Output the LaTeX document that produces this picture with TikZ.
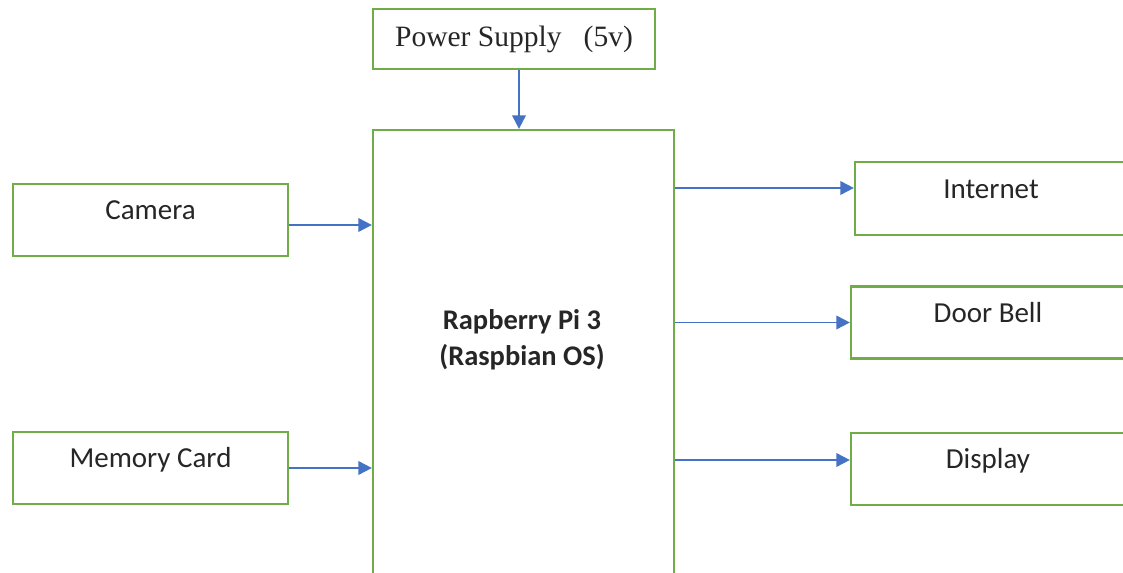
\documentclass[tikz,border=0pt]{standalone}
\usepackage{fontspec}
\setmainfont{Carlito}
\newfontfamily\serifface{Liberation Serif}
\usetikzlibrary{positioning, arrows.meta}
\definecolor{boxgreen}{HTML}{70AD47}
\definecolor{linkblue}{HTML}{4472C4}

\begin{document}
\begin{tikzpicture}[
    x=0.02cm,
    y=-0.02cm,
    unitnode/.style={
        rectangle,
        draw=boxgreen,
        line width=1.3pt,
        fill=white,
        minimum width=5.5cm,
        minimum height=1.44cm,
        inner sep=0pt,
        text height=0.42cm,
        text depth=0.42cm,
        text=black!85,
        font=\fontsize{16.5}{19}\selectfont
    },
    supplynode/.style={
        unitnode,
        minimum width=5.64cm,
        minimum height=1.2cm,
        text height=,
        text depth=,
        font=\serifface\fontsize{16.8}{19}\selectfont
    },
    pinode/.style={
        unitnode,
        minimum width=6.02cm,
        minimum height=10cm
    },
    pilabel/.style={
        align=center,
        inner sep=0pt,
        text=black!85,
        font=\bfseries\fontsize{16.2}{20.4}\selectfont
    },
    ptr/.style={
        -{Triangle[length=2.7mm, width=2.7mm]},
        line width=1.1pt,
        draw=linkblue
    }
]
    \useasboundingbox (0,0) rectangle (1123,573);
    \clip (0,0) rectangle (1123,573);

    % Nodes
    \node[supplynode] (nodePower) at (514,39) {Power Supply~~~(5v)};
    \node[pinode] (nodePi) at (523.5,380) {};
    \node[pilabel] (piLabel) at (522,340) {Rapberry Pi 3\\(Raspbian OS)};

    % Inputs on the left
    \node[unitnode] (nodeCam) at (150.5,220) {Camera};
    \node[unitnode] (nodeMem) at (150.5,468) {Memory Card};

    % Outputs on the right (cut off by the page edge)
    \node[unitnode, minimum width=5.44cm, minimum height=1.46cm] (nodeNet) at (991,198.5) {Internet};
    \node[unitnode, minimum width=5.48cm] (nodeBell) at (988,322.5) {Door Bell};
    \node[unitnode, minimum width=5.48cm] (nodeDisp) at (988,469) {Display};

    % Links
    \draw[ptr] ([xshift=0.1cm]nodePower.south) -- ([xshift=0.1cm]nodePower.south |- nodePi.north);
    \draw[ptr] ([yshift=-0.1cm]nodeCam.east) -- ([yshift=-0.1cm]nodeCam.east -| nodePi.west);
    \draw[ptr] (nodeMem.east) -- (nodeMem.east -| nodePi.west);
    \draw[ptr] ([yshift=0.21cm]nodeNet.west -| nodePi.east) -- ([yshift=0.21cm]nodeNet.west);
    \draw[ptr] (nodeBell.west -| nodePi.east) -- (nodeBell.west);
    \draw[ptr] ([yshift=0.18cm]nodeDisp.west -| nodePi.east) -- ([yshift=0.18cm]nodeDisp.west);

\end{tikzpicture}
\end{document}
